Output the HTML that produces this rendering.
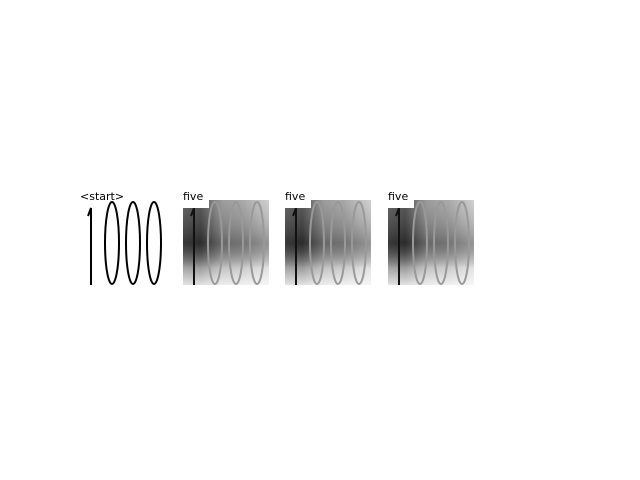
<!DOCTYPE html>
<html><head><meta charset="utf-8"><style>
html,body{margin:0;padding:0;background:#fff;}
svg{display:block;font-family:"DejaVu Sans","Liberation Sans",sans-serif;}
</style></head><body>
<svg id="chart" width="640" height="480">
<defs>
<linearGradient id="hgrad" x1="0" y1="0" x2="1" y2="0">
<stop offset="0" stop-color="#4a4a4a"/><stop offset="0.2" stop-color="#3a3a3a"/>
<stop offset="0.45" stop-color="#8a8a8a"/><stop offset="0.7" stop-color="#9a9a9a"/><stop offset="1" stop-color="#c8c8c8"/>
</linearGradient>
<linearGradient id="vgrad" x1="0" y1="0" x2="0" y2="1">
<stop offset="0" stop-color="#fff" stop-opacity="0.15"/><stop offset="0.5" stop-color="#000" stop-opacity="0.25"/>
<stop offset="0.8" stop-color="#fff" stop-opacity="0.5"/><stop offset="1" stop-color="#fff" stop-opacity="0.85"/>
</linearGradient>
</defs>
<g id="panels"></g>
</svg>
<script>
const titles = ["<start>", "five", "five", "five"];
const panelX = [80, 183, 285, 388];
const panelY = 200, panelS = 86;
const g = document.getElementById('panels');
const NS = 'http://www.w3.org/2000/svg';
function mk(t, a){const e=document.createElementNS(NS,t);for(const k in a)e.setAttribute(k,a[k]);return e;}
titles.forEach((t,i)=>{
  const x = panelX[i];
  const grp = mk('g',{});
  
  
  const heat = i>0;
  if(heat){
    grp.appendChild(mk('rect',{x:x,y:panelY,width:panelS,height:panelS-1,fill:'url(#hgrad)'}));
    grp.appendChild(mk('rect',{x:x,y:panelY,width:panelS,height:panelS-1,fill:'url(#vgrad)'}));
  }
  const col = heat ? '#999' : '#000';
  grp.appendChild(mk('path',{d:`M${x+11} ${panelY+85} L${x+11} ${panelY+8} L${x+8} ${panelY+16}`,stroke:heat?'#111':'#000','stroke-width':2,fill:'none'}));
  [32,53,74].forEach(cx=>{
    grp.appendChild(mk('ellipse',{cx:x+cx,cy:panelY+43,rx:7,ry:41,stroke:col,'stroke-width':2,fill:'none'}));
  });
  const lbl = mk('text',{x:x,y:panelY,'font-size':11,fill:'#000'});
  lbl.textContent = t;
  
  
  if(heat){
    grp.appendChild(mk('rect',{x:x,y:panelY-12,width:26,height:20,fill:'#fff'}));
  }
  grp.appendChild(lbl);
  g.appendChild(grp);
});
</script>
</body></html>
